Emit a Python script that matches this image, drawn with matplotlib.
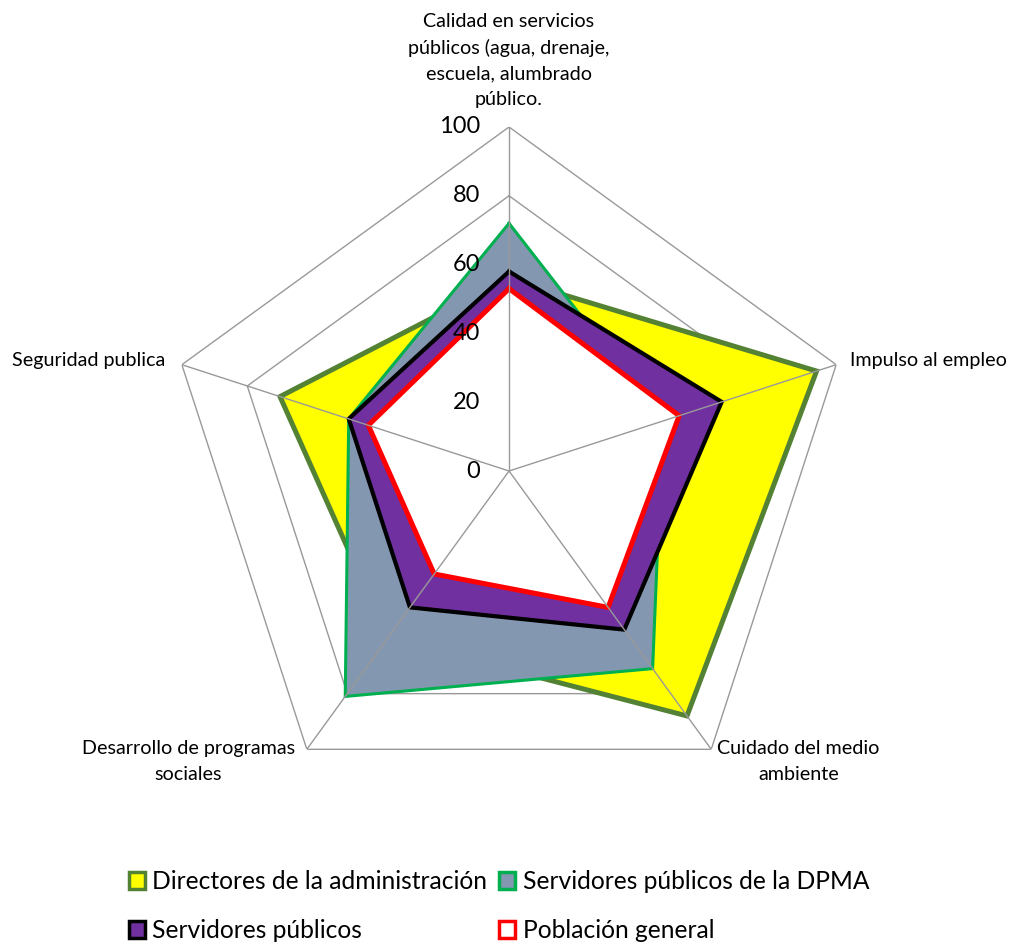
import numpy as np
import matplotlib
matplotlib.use("Agg")
import matplotlib.pyplot as plt
from matplotlib.patches import Patch

plt.rcParams['font.family'] = ['Lato', 'DejaVu Sans']

categories = [
    "Calidad en servicios\npúblicos (agua, drenaje,\nescuela, alumbrado\npúblico.",
    "Impulso al empleo",
    "Cuidado del medio\nambiente",
    "Desarrollo de programas\nsociales",
    "Seguridad publica",
]
directores = [56, 94, 88, 60, 70]
dpma = [72, 47, 71, 81, 49]
servidores = [58, 65, 57, 49, 49]
poblacion = [53, 52, 49, 37, 43]
grid_levels = [0, 20, 40, 60, 80, 100]

series = [
    ("Directores de la administración", directores, "#FFFF00", "#548235", 3.6),
    ("Servidores públicos de la DPMA", dpma, "#8497B0", "#00B050", 2.2),
    ("Servidores públicos", servidores, "#7030A0", "#000000", 3.0),
    ("Población general", poblacion, "#FFFFFF", "#FF0000", 3.6),
]

n = len(categories)
theta = np.arange(n) * 2 * np.pi / n
theta_closed = np.append(theta, theta[0])

fig = plt.figure(figsize=(10.13, 9.42), dpi=100)
ax = fig.add_axes([0.1629, 0.1348, 0.6792, 0.7304], projection='polar')
ax.set_theta_offset(np.pi / 2)
ax.set_theta_direction(-1)
ax.set_ylim(0, 100)
ax.grid(False)
ax.spines['polar'].set_visible(False)
ax.set_xticks([])
ax.set_yticks([])
ax.patch.set_alpha(0)

grid_color = "#999999"
# pentagon grid rings (under the filled areas)
for lvl in grid_levels[1:]:
    ax.plot(theta_closed, [lvl] * (n + 1), color=grid_color, lw=1.0, zorder=1)

# filled series
for i, (name, vals, fc, ec, lw) in enumerate(series):
    v = np.append(vals, vals[0])
    ax.fill(theta_closed, v, facecolor=fc, edgecolor='none', zorder=2 + i * 2)
    ax.plot(theta_closed, v, color=ec, lw=lw, zorder=3 + i * 2,
            solid_joinstyle='miter')

# spokes on top of the filled areas
for t in theta:
    ax.plot([t, t], [0, 100], color=grid_color, lw=1.0, zorder=20)

# radial tick labels
for lvl in grid_levels:
    ax.annotate(str(lvl), xy=(0, lvl), xycoords='data',
                xytext=(-29, 0), textcoords='offset pixels',
                ha='right', va='center', fontsize=17, color='black',
                zorder=21)

# category labels
label_specs = [
    ((0, 19), 'center', 'bottom'),
    ((14, 4), 'left', 'center'),
    ((6, 9), 'left', 'top'),
    ((-12, 9), 'right', 'top'),
    ((-17, 4), 'right', 'center'),
]
for t, lab, (off, ha, va) in zip(theta, categories, label_specs):
    ax.annotate(lab, xy=(t, 100), xycoords='data', xytext=off,
                textcoords='offset pixels', ha=ha, va=va,
                multialignment='center', fontsize=14.2, linespacing=1.6,
                annotation_clip=False)

# legend filled row by row
order = [0, 2, 1, 3]
handles = [Patch(facecolor=series[k][2], edgecolor=series[k][3],
                 linewidth=2.5, label=series[k][0]) for k in order]
fig.legend(handles=handles, loc='center', bbox_to_anchor=(0.4926, 0.038),
           ncol=2, frameon=False, fontsize=17.7, handlelength=0.65,
           handleheight=0.65, handletextpad=0.3, columnspacing=0.5,
           labelspacing=1.05)

fig.savefig("out.png", dpi=100)
